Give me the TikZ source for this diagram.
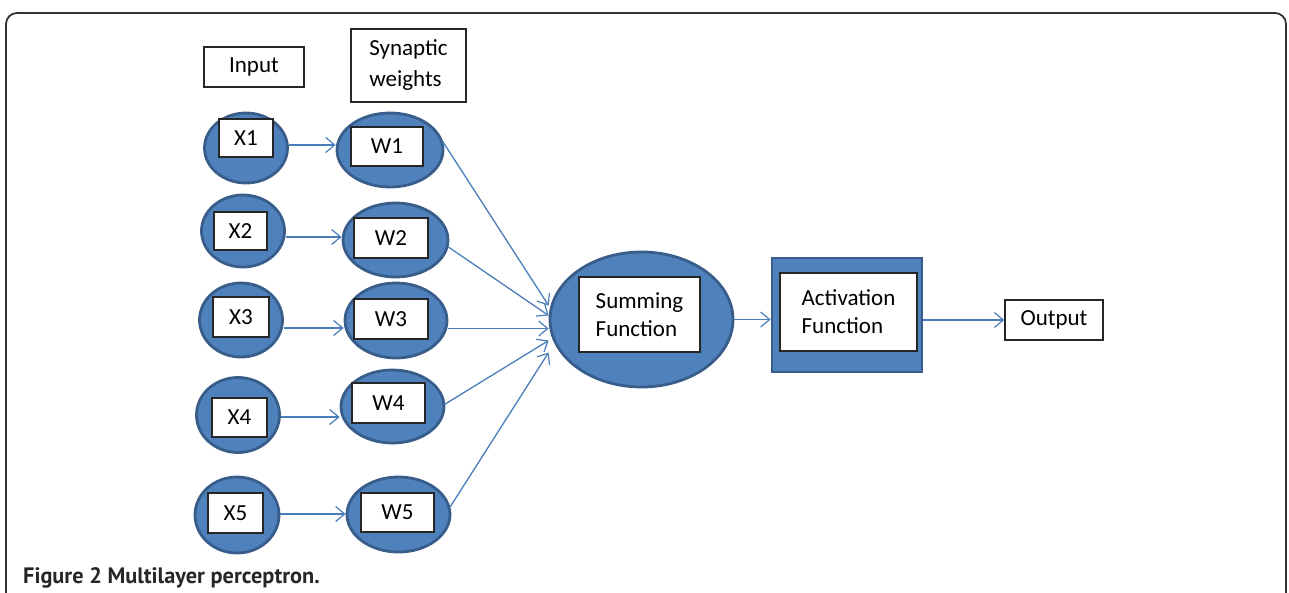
\documentclass[tikz,border=0pt]{standalone}
\usepackage{fontspec}
\setmainfont{Carlito}
\newfontfamily\capfont{PT Sans}
\usetikzlibrary{arrows.meta,shapes.geometric}
\definecolor{nodeblue}{HTML}{4F81BD}
\definecolor{nodeedge}{HTML}{385D8A}
\definecolor{linkblue}{HTML}{4A7EBB}
\tikzset{
  blob/.style={ellipse, fill=nodeblue, draw=nodeedge, line width=2.8pt, inner sep=0pt},
  wbox/.style={rectangle, fill=white, draw=black!85, line width=1.4pt, inner sep=0pt,
     align=left, font=\fontsize{23}{28}\selectfont},
  link/.style={draw=linkblue, line width=1.3pt, -{Straight Barb[length=9pt,width=15pt,line width=1.2pt]}},
}
\begin{document}
\begin{tikzpicture}[x=1pt,y=-1pt]
\useasboundingbox (0,0) rectangle (1289,592);
% frame
\draw[line width=1.8pt, black!80, rounded corners=11pt] (6,600) -- (6,13) -- (1286,13) -- (1286,600);
% headers
\node[wbox, minimum width=100pt, minimum height=40pt] (inp) at (254,67) {Input};
\node[wbox, minimum width=115pt, minimum height=73pt, font=\fontsize{23}{31}\selectfont] (syn) at (408.5,65.5) {Synaptic\\weights};
% input ellipses
\node[blob, minimum width=83pt, minimum height=70pt] (xe1) at (246,148) {};
\node[blob, minimum width=83pt, minimum height=72pt] (xe2) at (243,231) {};
\node[blob, minimum width=83pt, minimum height=74pt] (xe3) at (241,320) {};
\node[blob, minimum width=83pt, minimum height=75pt] (xe4) at (238,415) {};
\node[blob, minimum width=84pt, minimum height=76pt] (xe5) at (237,515) {};
\node[wbox, minimum width=54pt, minimum height=38pt] (xb1) at (246,138) {X1};
\node[wbox, minimum width=53pt, minimum height=38pt] (xb2) at (240.5,231) {X2};
\node[wbox, minimum width=56pt, minimum height=40pt] (xb3) at (241,317) {X3};
\node[wbox, minimum width=55pt, minimum height=39pt] (xb4) at (239.5,417.5) {X4};
\node[wbox, minimum width=55pt, minimum height=40pt] (xb5) at (235.5,513) {X5};
% weight ellipses
\node[blob, minimum width=106pt, minimum height=74pt] (we1) at (390,150) {};
\node[blob, minimum width=105pt, minimum height=74pt] (we2) at (395.5,240) {};
\node[blob, minimum width=102pt, minimum height=75pt] (we3) at (396,320.5) {};
\node[blob, minimum width=103pt, minimum height=73pt] (we4) at (392.5,406.5) {};
\node[blob, minimum width=103pt, minimum height=75pt] (we5) at (398.5,514.5) {};
\node[wbox, minimum width=72pt, minimum height=39pt] (wb1) at (387,146.5) {W1};
\node[wbox, minimum width=74pt, minimum height=40pt] (wb2) at (391,238) {W2};
\node[wbox, minimum width=74pt, minimum height=40pt] (wb3) at (391,319) {W3};
\node[wbox, minimum width=73pt, minimum height=40pt] (wb4) at (388.5,403) {W4};
\node[wbox, minimum width=73pt, minimum height=39pt] (wb5) at (397.5,512.5) {W5};
% summing
\node[blob, minimum width=183pt, minimum height=135pt] (sum) at (641.5,319.5) {};
\node[wbox, minimum width=121pt, minimum height=75pt] (sumb) at (639.5,314.5) {Summing\\Function};
% activation
\node[rectangle, fill=nodeblue, draw=nodeedge, line width=2.8pt, minimum width=150pt, minimum height=114pt] (act) at (847,315) {};
\node[wbox, minimum width=137pt, minimum height=78pt] (actb) at (848.5,312) {Activation\\Function};
% output
\node[wbox, minimum width=98pt, minimum height=40pt] (out) at (1054,320) {Output};
% connectors x -> w
\draw[link] ([yshift=3pt]xe1.east) -- ([yshift=3pt]xe1.east -| we1.west);
\draw[link] ([yshift=-6pt]xe2.east) -- ([yshift=-6pt]xe2.east -| we2.west);
\draw[link] ([yshift=-8pt]xe3.east) -- ([yshift=-8pt]xe3.east -| we3.west);
\draw[link] ([yshift=-2pt]xe4.east) -- ([yshift=-2pt]xe4.east -| we4.west);
\draw[link] ([yshift=1pt]xe5.east) -- ([yshift=1pt]xe5.east -| we5.west);
% connectors w -> sum
\draw[link] ([shift={(-2pt,9pt)}]we1.east) -- ([yshift=14pt]sum.west);
\draw[link] ([shift={(-1pt,-7pt)}]we2.east) -- ([yshift=4pt]sum.west);
\draw[link] ([yshift=-8pt]we3.east) -- ([yshift=-9pt]sum.west);
\draw[link] ([shift={(-1pt,2pt)}]we4.east) -- ([yshift=-21pt]sum.west);
\draw[link] ([shift={(-1pt,8pt)}]we5.east) -- ([yshift=-33pt]sum.west);
% sum -> act -> out
\draw[link] (sum.east) -- (sum.east -| act.west);
\draw[link] (act.east |- out.west) -- (out.west);
% caption
\node[anchor=base west, inner sep=0pt, font=\capfont\bfseries\fontsize{22.3}{26}\selectfont, text=black!85] (cap) at (23,583) {Figure 2 Multilayer perceptron.};
\end{tikzpicture}
\end{document}
